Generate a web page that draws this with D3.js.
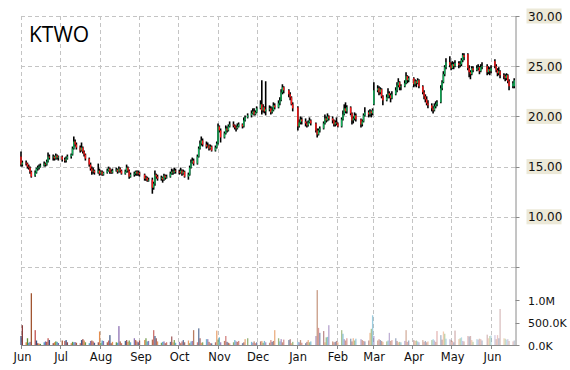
<!DOCTYPE html>
<html><head><meta charset="utf-8">
<script src="https://cdn.jsdelivr.net/npm/d3@7"></script>
<style>html,body{margin:0;padding:0;background:#fff;}svg{display:block;}</style>
</head><body>
<svg id="c" width="570" height="370"></svg>
<script>
const title = "KTWO";
const startDate = "2017-06-01", endDate = "2018-06-19", domainEnd = "2018-06-20";
const holidays = ["2017-07-04","2017-09-04","2017-11-23","2017-12-25","2018-01-01","2018-01-15","2018-02-19","2018-03-30","2018-05-28"];
const priceTicks = [5,10,15,20,25,30];
const priceLabels = ["10.00","15.00","20.00","25.00","30.00"];
const volumeTicks = [0,500000,1000000];
const volumeLabels = ["0.0K","500.0K","1.0M"];

const open = [
16.0,15.2,15.4,15.3,15.0,14.9,14.5,14.1,14.4,14.8,14.9,15.0,15.1,15.3,15.2,15.5,16.0,15.9,16.0,15.8,16.1,15.9,
16.0,15.7,15.6,15.8,16.0,16.2,16.8,17.5,17.2,16.9,16.6,16.9,16.5,16.2,15.8,15.2,14.8,14.5,14.6,14.4,
14.6,14.3,14.5,14.2,14.4,14.6,14.8,14.5,14.4,14.6,14.7,14.5,14.8,14.6,14.3,14.5,14.9,14.6,14.0,14.2,14.3,14.5,14.3,
14.4,14.2,13.8,13.9,13.6,13.7,12.9,13.3,14.2,14.0,13.8,13.9,13.7,14.1,13.9,14.0,14.3,14.5,14.4,14.6,
14.5,14.4,14.6,14.3,14.5,14.0,14.2,14.9,15.4,15.6,15.3,16.0,16.8,17.3,17.6,17.2,17.0,17.1,16.8,17.0,16.6,16.9,
17.3,19.0,18.6,17.9,18.3,18.8,18.6,19.0,19.2,19.1,18.9,18.8,19.0,19.2,19.0,19.6,19.9,20.1,20.3,20.5,20.2,
20.4,20.8,21.2,20.6,20.9,20.5,20.7,20.8,20.4,20.6,21.1,20.9,21.3,21.6,22.4,22.9,22.6,22.2,21.9,21.2,
20.9,19.0,19.4,19.7,19.5,19.3,19.1,19.4,19.6,19.3,18.6,18.2,18.6,18.8,19.3,19.8,19.6,20.0,19.8,19.6,19.2,
19.4,19.3,19.0,19.7,20.2,20.8,20.5,20.9,20.3,19.6,19.8,20.1,19.7,19.2,19.5,20.1,20.4,20.2,20.5,
20.3,21.2,22.6,22.8,22.4,22.7,22.0,21.6,21.9,22.3,22.1,21.8,22.2,22.6,23.1,23.4,22.9,23.0,23.3,24.0,23.6,
23.8,23.2,23.5,23.3,23.6,23.0,22.4,22.0,21.7,21.3,21.1,20.8,20.6,21.0,21.2,21.4,22.8,23.4,24.2,24.9,25.4,
25.1,24.8,25.2,25.0,25.3,25.1,25.2,25.6,26.1,26.2,24.8,24.4,24.2,24.8,24.6,24.8,24.9,24.5,24.9,25.0,24.4,24.7,
24.5,25.5,25.0,24.6,24.3,24.5,24.1,24.0,23.8,24.1,23.5,23.0,23.0];
const high = [
16.5,15.6,15.6,15.4,15.2,15.0,14.6,14.6,14.9,15.1,15.2,15.3,15.5,15.4,15.7,16.4,16.2,16.2,16.1,16.3,16.2,16.1,
16.1,15.9,16.0,16.2,16.3,17.0,18.0,17.7,17.4,17.1,17.4,17.0,16.6,16.3,15.9,15.4,15.0,14.9,14.7,15.3,
14.8,14.6,14.6,14.5,14.8,15.0,14.9,14.7,14.8,14.9,14.8,15.0,14.9,14.7,14.7,15.2,15.0,14.7,14.4,14.5,14.6,14.6,14.6,
14.5,14.3,14.1,14.0,13.9,13.9,13.5,14.6,14.3,14.2,14.1,14.0,14.3,14.2,14.2,14.5,14.8,14.7,14.9,14.8,
14.7,14.9,14.7,14.7,14.6,14.4,15.1,15.7,15.9,15.8,16.2,17.0,17.6,18.0,17.8,17.5,17.4,17.2,17.2,17.1,17.1,17.5,
19.3,19.1,18.8,18.5,19.1,19.0,19.2,19.5,19.5,19.2,19.1,19.3,19.4,19.3,19.9,20.1,20.3,20.6,20.8,20.8,20.6,
21.0,21.6,23.6,21.2,21.0,23.5,21.1,21.0,20.9,21.4,21.3,21.6,21.9,22.7,23.2,23.0,22.7,22.4,22.0,21.4,
21.0,19.7,20.0,19.9,19.8,19.5,19.6,19.9,19.7,19.4,18.8,18.8,19.0,19.5,20.2,20.0,20.3,20.1,20.0,19.7,19.6,
19.9,19.4,19.9,20.6,21.2,21.4,21.1,21.0,20.4,20.0,20.4,20.3,19.8,19.7,20.3,20.9,20.6,20.7,20.6,
20.8,23.4,23.1,23.0,22.9,22.8,22.1,22.2,22.8,22.5,22.3,22.5,22.9,23.4,23.8,23.5,23.2,23.6,24.4,24.1,24.0,
23.9,23.7,23.6,23.8,23.7,23.1,22.6,22.2,22.0,21.6,21.3,21.0,21.3,21.5,21.6,23.1,23.6,24.5,25.1,25.8,26.0,
25.4,25.5,25.4,25.6,25.5,25.5,25.8,26.3,26.3,26.3,25.1,24.6,25.0,25.0,25.1,25.2,25.0,25.2,25.4,25.2,25.0,24.9,
25.1,25.7,25.2,24.8,24.9,24.6,24.3,24.2,24.3,24.2,23.7,23.5,23.8];
const low = [
15.0,15.0,15.1,14.8,14.7,14.3,13.9,14.0,14.3,14.6,14.7,14.9,15.0,15.0,15.1,15.4,15.7,15.6,15.6,15.7,15.7,15.6,
15.5,15.4,15.4,15.7,15.8,16.1,16.7,17.0,16.7,16.4,16.5,16.3,16.0,15.6,15.0,14.6,14.2,14.3,14.2,14.3,
14.1,14.2,14.1,14.1,14.3,14.5,14.3,14.3,14.3,14.5,14.3,14.4,14.4,14.2,14.2,14.4,14.4,13.8,13.9,14.0,14.1,14.1,14.1,
14.0,13.6,13.6,13.5,13.5,12.3,12.7,13.1,13.8,13.6,13.6,13.4,13.6,13.7,13.8,13.9,14.2,14.2,14.3,14.3,
14.2,14.3,14.1,14.2,13.9,13.7,14.1,14.8,15.3,15.1,15.2,15.9,16.7,17.1,17.0,16.8,16.9,16.6,16.7,16.5,16.5,16.8,
17.2,18.4,17.4,17.8,18.2,18.4,18.5,18.9,18.9,18.7,18.5,18.7,18.9,18.8,18.9,19.5,19.8,19.9,20.2,20.1,20.1,
20.3,20.7,20.2,20.4,20.3,20.1,20.5,20.2,20.3,20.5,20.7,20.8,21.1,21.5,22.2,22.3,21.9,21.6,21.1,20.5,
18.6,18.9,19.2,19.2,19.0,18.9,19.0,19.3,19.1,18.4,17.9,18.1,18.4,18.7,19.2,19.4,19.5,19.6,19.3,19.0,19.0,
19.1,18.9,18.9,19.6,20.1,20.3,20.3,20.1,19.2,19.3,19.6,19.5,18.9,19.0,19.4,20.0,19.9,20.0,19.9,
20.1,21.1,22.4,22.1,22.2,21.8,21.1,21.5,21.8,21.8,21.4,21.7,22.1,22.4,22.9,22.6,22.6,22.9,23.2,23.3,23.4,
22.9,23.0,22.9,23.2,22.8,22.2,21.7,21.4,21.1,20.8,20.5,20.3,20.5,20.8,21.0,21.3,22.6,23.3,24.0,24.7,24.9,
24.6,24.7,24.7,24.9,24.8,24.9,25.0,25.4,25.6,24.6,23.9,23.7,24.1,24.4,24.5,24.6,24.2,24.4,24.7,24.1,24.2,24.1,
24.3,24.8,24.4,24.0,24.1,23.8,23.7,23.5,23.6,23.3,22.6,22.8,22.8];
const close = [
15.2,15.4,15.3,15.0,14.9,14.5,14.0,14.4,14.8,14.9,15.0,15.1,15.3,15.2,15.5,16.0,15.9,16.0,15.8,16.1,15.9,16.0,
15.7,15.6,15.8,16.0,16.2,16.8,17.5,17.2,16.9,16.6,16.9,16.5,16.2,15.8,15.2,14.8,14.5,14.6,14.4,14.6,
14.3,14.5,14.2,14.4,14.6,14.8,14.5,14.4,14.6,14.7,14.5,14.8,14.6,14.3,14.5,14.9,14.6,14.0,14.2,14.3,14.5,14.3,14.4,
14.2,13.8,13.9,13.6,13.7,12.9,13.3,14.2,14.0,13.8,13.9,13.7,14.1,13.9,14.0,14.3,14.5,14.4,14.6,14.5,
14.4,14.6,14.3,14.5,14.0,14.2,14.9,15.4,15.6,15.3,16.0,16.8,17.3,17.6,17.2,17.0,17.1,16.8,17.0,16.6,16.9,17.3,
19.0,18.6,17.9,18.3,18.8,18.6,19.0,19.2,19.1,18.9,18.8,19.0,19.2,19.0,19.6,19.9,20.1,20.3,20.5,20.2,20.4,
20.8,21.2,20.6,20.9,20.5,20.7,20.8,20.4,20.6,21.1,20.9,21.3,21.6,22.4,22.9,22.6,22.2,21.9,21.2,20.8,
19.0,19.4,19.7,19.5,19.3,19.1,19.4,19.6,19.3,18.6,18.2,18.6,18.8,19.3,19.8,19.6,20.0,19.8,19.6,19.2,19.4,
19.3,19.0,19.7,20.2,20.8,20.5,20.9,20.3,19.6,19.8,20.1,19.7,19.2,19.5,20.1,20.4,20.2,20.5,20.3,
20.6,22.6,22.8,22.4,22.7,22.0,21.6,21.9,22.3,22.1,21.8,22.2,22.6,23.1,23.4,22.9,23.0,23.3,24.0,23.6,23.8,
23.2,23.5,23.3,23.6,23.0,22.4,22.0,21.7,21.3,21.1,20.8,20.6,21.0,21.2,21.4,22.8,23.4,24.2,24.9,25.4,25.1,
24.8,25.2,25.0,25.3,25.1,25.2,25.6,26.1,25.9,24.8,24.4,24.2,24.8,24.6,24.8,24.9,24.5,24.9,25.0,24.4,24.7,24.5,
24.8,25.0,24.6,24.3,24.5,24.1,24.0,23.8,24.1,23.5,23.0,23.3,23.6];
const volumeK = [
200,440,60,150,50,70,1150,330,100,40,30,25,60,80,70,150,110,40,60,80,70,45,
100,90,110,60,40,70,60,65,50,40,110,130,100,60,40,90,100,80,50,60,
300,50,100,90,60,100,220,40,70,60,50,420,80,40,90,110,70,100,60,150,110,80,60,
100,110,150,80,90,120,330,200,150,80,50,70,80,40,60,70,190,60,110,50,
70,40,80,110,60,100,40,80,90,330,60,370,150,50,60,130,130,70,40,37,60,320,
120,170,60,90,200,70,50,37,60,110,80,70,90,40,60,130,150,70,50,80,40,
60,80,90,50,90,60,50,110,70,90,330,150,80,130,60,120,110,130,40,70,
70,60,110,50,40,70,110,60,80,200,1220,380,270,310,60,170,180,440,80,60,70,
90,60,330,250,130,100,150,140,80,150,100,140,130,110,90,80,100,270,360,
660,200,100,130,110,90,70,80,100,270,90,110,150,90,60,70,60,90,330,70,100,
110,90,100,80,60,110,70,90,60,80,110,130,100,70,310,220,120,300,250,140,130,
110,90,60,320,130,150,170,90,80,200,190,200,110,70,130,120,140,130,100,230,150,200,
210,220,130,220,150,800,150,140,120,130,90,80,100];
const volumePalette = ["#2f4b7c","#8b3a3a","#e0803a","#5e8c31","#3a9bbf","#7b5aa6","#a0522d","#c0504d"];

// trading calendar
const parse = d3.timeParse("%Y-%m-%d"), fmt = d3.timeFormat("%Y-%m-%d");
const hol = new Set(holidays);
const dates = d3.timeDays(parse(startDate), d3.timeDay.offset(parse(endDate),1))
  .filter(d => d.getDay()!==0 && d.getDay()!==6 && !hol.has(fmt(d)));
const n = Math.min(dates.length, close.length);
const data = d3.range(n).map(i => ({date:dates[i], o:open[i], h:high[i], l:low[i], c:close[i], v:volumeK[i]*1000, i}));

const svg = d3.select("#c");
const L = 21, R = 515.5, T = 16, B = 345;
const x = d3.scaleTime().domain([parse(startDate), parse(domainEnd)]).range([L, R]);
const yP = d3.scaleLinear().domain([5,30]).range([267,T]);
const yV = d3.scaleLinear().domain([0,1000000]).range([B,300]);
const grid = "#c4c4c4";

const months = x.ticks(d3.timeMonth.every(1));
// grid
svg.append("g").selectAll("line").data(months).join("line")
  .attr("x1", d=>Math.round(x(d))+0.5).attr("x2", d=>Math.round(x(d))+0.5)
  .attr("y1", T).attr("y2", B).attr("stroke", grid).attr("stroke-dasharray","4,3");
svg.append("g").selectAll("line").data(priceTicks).join("line")
  .attr("x1", L).attr("x2", R).attr("y1", d=>Math.round(yP(d))+0.5).attr("y2", d=>Math.round(yP(d))+0.5)
  .attr("stroke", grid).attr("stroke-dasharray","4,3");

// volume bars
const nd = data.length;
svg.append("g").selectAll("rect").data(data).join("rect")
  .attr("x", d=>x(d.date)-0.6).attr("width",1.3)
  .attr("y", d=>yV(d.v)).attr("height", d=>B-yV(d.v))
  .attr("fill", d=>volumePalette[d.i % volumePalette.length])
  .attr("fill-opacity", d=>1 - 0.7*d.i/(nd-1));

// candles
const cg = svg.append("g");
cg.selectAll("line").data(data).join("line")
  .attr("x1", d=>x(d.date)).attr("x2", d=>x(d.date))
  .attr("y1", d=>yP(d.h)).attr("y2", d=>yP(d.l))
  .attr("stroke","#000").attr("stroke-width",1.6);
cg.selectAll("rect").data(data).join("rect")
  .attr("x", d=>x(d.date)-0.7).attr("width",1.4)
  .attr("y", d=>yP(Math.max(d.o,d.c))).attr("height", d=>Math.max(0.8, Math.abs(yP(d.o)-yP(d.c))))
  .attr("fill", d=> d.c>=d.o ? "#12b05a" : "#ff1a1a");

// axes lines
svg.append("line").attr("x1",L).attr("x2",R+0.5).attr("y1",B+0.5).attr("y2",B+0.5).attr("stroke","#8a8a8a");
svg.append("line").attr("x1",R+0.5).attr("x2",R+0.5).attr("y1",T).attr("y2",B+0.5).attr("stroke","#8a8a8a");
svg.append("g").selectAll("line").data(months).join("line")
  .attr("x1", d=>Math.round(x(d))+0.5).attr("x2", d=>Math.round(x(d))+0.5)
  .attr("y1", B).attr("y2", B+4).attr("stroke","#8a8a8a");
svg.append("g").selectAll("line").data(priceTicks).join("line")
  .attr("x1", R).attr("x2", R+4).attr("y1", d=>Math.round(yP(d))+0.5).attr("y2", d=>Math.round(yP(d))+0.5).attr("stroke","#8a8a8a");
svg.append("g").selectAll("line").data(volumeTicks).join("line")
  .attr("x1", R).attr("x2", R+4).attr("y1", d=>Math.round(yV(d))+0.5).attr("y2", d=>Math.round(yV(d))+0.5).attr("stroke","#8a8a8a");

const font = "'DejaVu Sans', Verdana, sans-serif";
// month labels
svg.append("g").selectAll("text").data(months).join("text")
  .attr("x", d=>x(d)+1.5).attr("y", 361).attr("text-anchor","middle")
  .attr("font-family", font).attr("font-size", 11.5).attr("fill","#111")
  .text(d3.timeFormat("%b"));
// price labels
const pl = svg.append("g").selectAll("g").data(priceTicks.slice(1)).join("g")
  .attr("transform", d=>`translate(0,${yP(d)})`);
pl.append("rect").attr("x",526.5).attr("y",-7.5).attr("width",35).attr("height",15).attr("fill","#ece9d8");
pl.append("text").attr("x",528).attr("y",4.5).attr("font-family",font).attr("font-size",12).attr("fill","#111")
  .text((d,i)=>priceLabels[i]);
// volume labels
svg.append("g").selectAll("text").data(volumeTicks).join("text")
  .attr("x",528).attr("y",d=>yV(d)+4.5).attr("font-family",font).attr("font-size",11).attr("fill","#111")
  .text((d,i)=>volumeLabels[i]);
// title
svg.append("text").attr("x",29).attr("y",41.5).attr("font-family","'Open Sans', sans-serif")
  .attr("font-size",21).attr("fill","#000").text(title);
</script>
</body></html>
